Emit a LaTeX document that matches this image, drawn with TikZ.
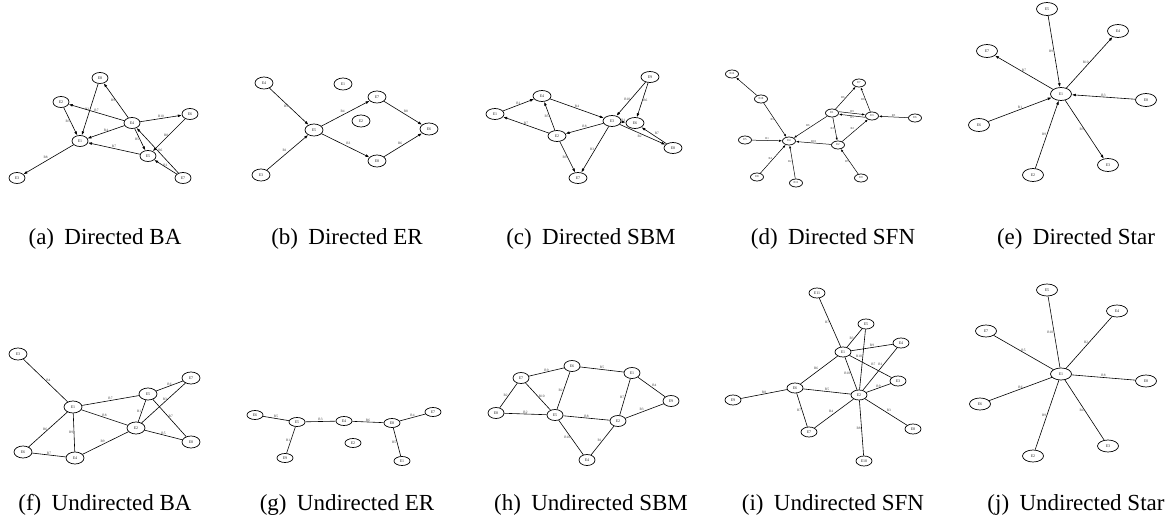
\documentclass[tikz,border=0pt]{standalone}
\usepackage{fontspec}
\setmainfont{Liberation Serif}
\usetikzlibrary{shapes.geometric,arrows.meta}
\begin{document}
\begin{tikzpicture}[x=1pt,y=-1pt,
  nd/.style={ellipse,draw,line width=.7pt,inner sep=0pt,font=\fontsize{4}{4}\selectfont,text=black!85},
  ed/.style={line width=.6pt},
  ar/.style={ed,-{Latex[length=4pt,width=2.8pt]}},
  lbl/.style={font=\fontsize{3.5}{3.5}\selectfont,inner sep=.6pt,text=black!75},
  captext/.style={font=\fontsize{23}{23}\selectfont,inner sep=0pt}]
\useasboundingbox (0,0) rectangle (1166,526);

% ---------------- (a) Directed BA
\begin{scope}[nd/.append style={minimum width=16pt,minimum height=11pt}]
\node[nd] (a8) at (100,78) {E8};
\node[nd] (a2) at (61,102) {E2};
\node[nd] (a4) at (132,123) {E4};
\node[nd] (a6) at (190,114) {E6};
\node[nd] (a1) at (80,141) {E1};
\node[nd] (a5) at (148,156) {E5};
\node[nd] (a3) at (17,178) {E3};
\node[nd] (a7) at (183,178) {E7};
\draw[ar] (a8) -- node[lbl,left]{R2} (a1);
\draw[ar] (a4) -- node[lbl,above]{R7} (a2);
\draw[ar] (a2) -- node[lbl,left]{R3} (a1);
\draw[ar] (a4) -- node[lbl,left]{R9} (a8);
\draw[ar] (a4) -- node[lbl,above]{R4} (a1);
\draw[ar] (a4) -- node[lbl,above]{R10} (a6);
\draw[ar] (a6) -- node[lbl,left]{R8} (a5);
\draw[ar] (a4) -- node[lbl,left]{R5} (a5);
\draw[ar] (a7) -- node[lbl,right]{R6} (a4);
\draw[ar] (a7) -- node[lbl,above]{R1} (a5);
\draw[ar] (a5) -- node[lbl,above]{R7} (a1);
\draw[ar] (a1) -- node[lbl,above left]{R8} (a3);
\end{scope}
\node[captext] (capa) at (105,239) {(a)\hspace{.45em}Directed BA};

% ---------------- (b) Directed ER
\begin{scope}[nd/.append style={minimum width=18pt,minimum height=12pt}]
\node[nd] (b4) at (264,83) {E4};
\node[nd] (b1) at (343,84) {E1};
\node[nd] (b7) at (377,97) {E7};
\node[nd] (b2) at (361,121) {E2};
\node[nd] (b5) at (314,130) {E5};
\node[nd] (b6) at (429,129) {E6};
\node[nd] (b8) at (377,161) {E8};
\node[nd] (b3) at (261,175) {E3};
\draw[ar] (b4) -- node[lbl,left]{R5} (b5);
\draw[ar] (b3) -- node[lbl,above left]{R1} (b5);
\draw[ar] (b5) -- node[lbl,above left]{R4} (b7);
\draw[ar] (b5) -- node[lbl,above right]{R3} (b8);
\draw[ar] (b7) -- node[lbl,above right]{R8} (b6);
\draw[ar] (b8) -- node[lbl,above left]{R6} (b6);
\end{scope}
\node[captext] (capb) at (347,239) {(b)\hspace{.45em}Directed ER};

% ---------------- (c) Directed SBM
\begin{scope}[nd/.append style={minimum width=18pt,minimum height=11pt}]
\node[nd] (c9) at (650,77) {E9};
\node[nd] (c4) at (542,96) {E4};
\node[nd] (c1) at (495,114) {E1};
\node[nd] (c3) at (612,121) {E3};
\node[nd] (c6) at (635,123) {E6};
\node[nd] (c2) at (557,136) {E2};
\node[nd] (c8) at (673,148) {E8};
\node[nd] (c7) at (578,178) {E7};
\draw[ar] (c1) -- node[lbl,above]{R1} (c4);
\draw[ar] (c2) -- node[lbl,above]{R7} (c1);
\draw[ar] (c2) -- node[lbl,left]{R5} (c4);
\draw[ar] (c4) -- node[lbl,above]{R4} (c3);
\draw[ar] (c9) -- node[lbl,left]{R10} (c3);
\draw[ar] (c9) -- node[lbl,right]{R6} (c6);
\draw[ar] (c3) -- node[lbl,above]{R1} (c6);
\draw[ar] (c3) -- node[lbl,above]{R8} (c2);
\draw[ar] (c3) -- node[lbl,below left]{R2} (c8);
\draw[ar] (c8) -- node[lbl,above right]{R7} (c6);
\draw[ar] (c3) -- node[lbl,left]{R3} (c7);
\draw[ar] (c2) -- node[lbl,left]{R9} (c7);
\end{scope}
\node[captext] (capc) at (591,239) {(c)\hspace{.45em}Directed SBM};

% ---------------- (d) Directed SFN
\begin{scope}[nd/.append style={minimum width=13pt,minimum height=8pt,font=\fontsize{3}{3}\selectfont},
  ar/.style={ed,line width=.5pt,-{Latex[length=3pt,width=2.2pt]}},
  lbl/.append style={font=\fontsize{3}{3}\selectfont}]
\node[nd] (d12) at (732,74) {E12};
\node[nd] (d10) at (761,99) {E10};
\node[nd] (d7) at (859,83) {E7};
\node[nd] (d1) at (832,113) {E1};
\node[nd] (d3) at (872,116) {E3};
\node[nd] (d6) at (915,118) {E6};
\node[nd] (d5) at (745,140) {E5};
\node[nd] (d4) at (789,141) {E4};
\node[nd] (d2) at (838,145) {E2};
\node[nd] (d8) at (757,177) {E8};
\node[nd] (d9) at (861,178) {E9};
\node[nd] (d11) at (796,183) {E11};
\draw[ar] (d10) -- (d12);
\draw[ar] (d10) -- node[lbl,left]{R5} (d4);
\draw[ar] (d5) -- node[lbl,above]{R1} (d4);
\draw[ar] (d8) -- node[lbl,left]{R4} (d4);
\draw[ar] (d11) -- node[lbl,left]{R2} (d4);
\draw[ar] (d1) -- node[lbl,above left]{R6} (d4);
\draw[ar] (d2) -- node[lbl,above]{R10} (d4);
\draw[ar] (d1) -- node[lbl,left]{R6} (d7);
\draw[ar] (d3) -- node[lbl,left]{R8} (d7);
\draw[ar] ([yshift=1.3pt]d1.east) -- node[lbl,above]{R9} ([yshift=1.3pt]d3.west);
\draw[ar] ([yshift=-1.3pt]d3.west) -- node[lbl,below]{R5} ([yshift=-1.3pt]d1.east);
\draw[ar] (d6) -- node[lbl,above]{R3} (d3);
\draw[ar] (d1) -- node[lbl,left]{R3} (d2);
\draw[ar] (d2) -- node[lbl,above left]{R2} (d3);
\draw[ar] (d9) -- node[lbl,left]{R5} (d2);
\end{scope}
\node[captext] (capd) at (833,239) {(d)\hspace{.45em}Directed SFN};

% ---------------- (e) Directed Star
\begin{scope}[nd/.append style={minimum width=21pt,minimum height=13pt}]
\node[nd] (e5) at (1047,9) {E5};
\node[nd] (e4) at (1118,31) {E4};
\node[nd] (e7) at (987,51) {E7};
\node[nd] (e1) at (1061,94) {E1};
\node[nd] (e8) at (1146,100) {E8};
\node[nd] (e6) at (979,125) {E6};
\node[nd] (e3) at (1108,165) {E3};
\node[nd] (e2) at (1033,175) {E2};
\draw[ar] (e5) -- node[lbl,left]{R9} (e1);
\draw[ar] (e1) -- node[lbl,left]{R10} (e4);
\draw[ar] (e1) -- node[lbl,above]{R7} (e7);
\draw[ar] (e8) -- node[lbl,above]{R3} (e1);
\draw[ar] (e6) -- node[lbl,above]{R1} (e1);
\draw[ar] (e2) -- node[lbl,left]{R9} (e1);
\draw[ar] (e1) -- node[lbl,left]{R5} (e3);
\end{scope}
\node[captext] (cape) at (1076,239) {(e)\hspace{.45em}Directed Star};

% ---------------- (f) Undirected BA
\begin{scope}[nd/.append style={minimum width=18pt,minimum height=12pt}]
\node[nd] (f3) at (18,354) {E3};
\node[nd] (f1) at (73,407) {E1};
\node[nd] (f5) at (148,394) {E5};
\node[nd] (f7) at (191,378) {E7};
\node[nd] (f2) at (136,428) {E2};
\node[nd] (f6) at (23,452) {E6};
\node[nd] (f4) at (75,458) {E4};
\node[nd] (f8) at (191,442) {E8};
\draw[ed] (f3) -- node[lbl,right]{R4} (f1);
\draw[ed] (f1) -- node[lbl,above]{R7} (f5);
\draw[ed] (f1) -- node[lbl,above]{R8} (f2);
\draw[ed] (f5) -- node[lbl,above]{R6} (f7);
\draw[ed] (f5) -- node[lbl,left]{R1} (f2);
\draw[ed] (f7) -- node[lbl,left,pos=.4]{R3} (f2);
\draw[ed] (f5) -- node[lbl,right,pos=.45]{R7} (f8);
\draw[ed] (f2) -- node[lbl,above]{R5} (f8);
\draw[ed] (f1) -- node[lbl,left]{R6} (f6);
\draw[ed] (f1) -- node[lbl,left]{R9} (f4);
\draw[ed] (f6) -- node[lbl,above]{R7} (f4);
\draw[ed] (f4) -- node[lbl,above left]{R9} (f2);
\end{scope}
\node[captext] (capf) at (105,505) {(f)\hspace{.45em}Undirected BA};

% ---------------- (g) Undirected ER
\begin{scope}[nd/.append style={minimum width=16pt,minimum height=9pt}]
\node[nd] (g6) at (255,415) {E6};
\node[nd] (g5) at (297,422) {E5};
\node[nd] (g4) at (344,421) {E4};
\node[nd] (g8) at (392,423) {E8};
\node[nd] (g7) at (433,412) {E7};
\node[nd] (g2) at (353,443) {E2};
\node[nd] (g9) at (285,458) {E9};
\node[nd] (g1) at (402,461) {E1};
\draw[ed] (g6) -- node[lbl,above]{R5} (g5);
\draw[ed] (g5) -- node[lbl,above]{R3} (g4);
\draw[ed] (g4) -- node[lbl,above]{R6} (g8);
\draw[ed] (g8) -- node[lbl,above]{R4} (g7);
\draw[ed] (g5) -- node[lbl,left]{R1} (g9);
\draw[ed] (g8) -- node[lbl,left]{R5} (g1);
\end{scope}
\node[captext] (capg) at (347,505) {(g)\hspace{.45em}Undirected ER};

% ---------------- (h) Undirected SBM
\begin{scope}[nd/.append style={minimum width=16pt,minimum height=11pt}]
\node[nd] (h6) at (572,366) {E6};
\node[nd] (h7) at (521,378) {E7};
\node[nd] (h1) at (632,373) {E1};
\node[nd] (h9) at (671,401) {E9};
\node[nd] (h8) at (496,413) {E8};
\node[nd] (h5) at (555,415) {E5};
\node[nd] (h2) at (618,421) {E2};
\node[nd] (h4) at (587,460) {E4};
\draw[ed] (h7) -- node[lbl,above]{R9} (h6);
\draw[ed] (h6) -- node[lbl,above]{R5} (h1);
\draw[ed] (h7) -- node[lbl,left]{R2} (h8);
\draw[ed] (h7) -- node[lbl,right]{R10} (h5);
\draw[ed] (h6) -- node[lbl,left]{R2} (h5);
\draw[ed] (h1) -- node[lbl,left]{R7} (h2);
\draw[ed] (h1) -- node[lbl,above right]{R4} (h9);
\draw[ed] (h8) -- node[lbl,above]{R2} (h5);
\draw[ed] (h5) -- node[lbl,above]{R8} (h2);
\draw[ed] (h2) -- node[lbl,above left]{R3} (h9);
\draw[ed] (h5) -- node[lbl,left]{R10} (h4);
\draw[ed] (h2) -- node[lbl,left]{R1} (h4);
\end{scope}
\node[captext] (caph) at (591,505) {(h)\hspace{.45em}Undirected SBM};

% ---------------- (i) Undirected SFN
\begin{scope}[nd/.append style={minimum width=16pt,minimum height=10pt}]
\node[nd] (i11) at (817,293) {E11};
\node[nd] (i5) at (866,324) {E5};
\node[nd] (i4) at (901,343) {E4};
\node[nd] (i1) at (843,352) {E1};
\node[nd] (i3) at (898,381) {E3};
\node[nd] (i6) at (795,388) {E6};
\node[nd] (i2) at (859,395) {E2};
\node[nd] (i9) at (733,400) {E9};
\node[nd] (i7) at (809,432) {E7};
\node[nd] (i8) at (913,429) {E8};
\node[nd] (i10) at (864,461) {E10};
\draw[ed] (i11) -- node[lbl,left]{R7} (i1);
\draw[ed] (i1) -- node[lbl,left]{R3} (i5);
\draw[ed] (i1) -- node[lbl,above]{R9} (i4);
\draw[ed] (i1) -- node[lbl,above right]{R7} (i3);
\draw[ed] (i1) -- node[lbl,left]{R10} (i2);
\draw[ed] (i5) -- node[lbl,left,pos=.45]{R10} (i2);
\draw[ed] (i4) -- node[lbl,left,pos=.4]{R1} (i2);
\draw[ed] (i1) -- node[lbl,above left]{R6} (i6);
\draw[ed] (i6) -- node[lbl,above]{R8} (i9);
\draw[ed] (i6) -- node[lbl,above]{R5} (i2);
\draw[ed] (i6) -- node[lbl,left]{R7} (i7);
\draw[ed] (i2) -- node[lbl,above left]{R4} (i7);
\draw[ed] (i2) -- node[lbl,above]{R9} (i3);
\draw[ed] (i2) -- node[lbl,above right]{R3} (i8);
\draw[ed] (i2) -- node[lbl,left]{R8} (i10);
\end{scope}
\node[captext] (capi) at (833,505) {(i)\hspace{.45em}Undirected SFN};

% ---------------- (j) Undirected Star
\begin{scope}[nd/.append style={minimum width=21pt,minimum height=12pt}]
\node[nd] (j5) at (1047,290) {E5};
\node[nd] (j4) at (1117,311) {E4};
\node[nd] (j7) at (986,331) {E7};
\node[nd] (j1) at (1061,374) {E1};
\node[nd] (j8) at (1146,381) {E8};
\node[nd] (j6) at (980,404) {E6};
\node[nd] (j3) at (1108,446) {E3};
\node[nd] (j2) at (1033,456) {E2};
\draw[ed] (j5) -- node[lbl,left]{R10} (j1);
\draw[ed] (j4) -- node[lbl,left]{R2} (j1);
\draw[ed] (j7) -- node[lbl,above]{R5} (j1);
\draw[ed] (j8) -- node[lbl,above]{R8} (j1);
\draw[ed] (j6) -- node[lbl,above]{R6} (j1);
\draw[ed] (j2) -- node[lbl,left]{R9} (j1);
\draw[ed] (j3) -- node[lbl,left]{R4} (j1);
\end{scope}
\node[captext] (capj) at (1076,505) {(j)\hspace{.45em}Undirected Star};
\end{tikzpicture}
\end{document}
